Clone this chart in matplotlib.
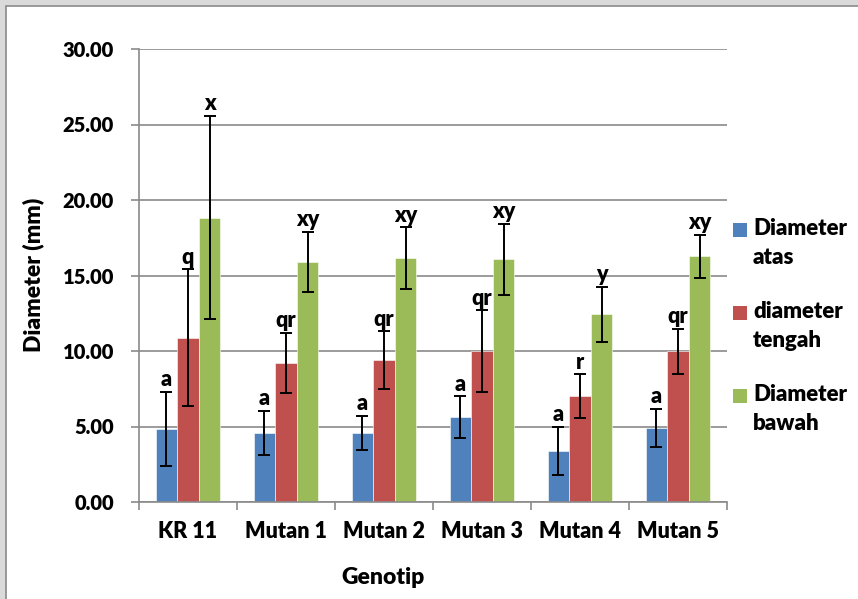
import matplotlib.pyplot as plt
import numpy as np
from matplotlib.patches import Rectangle

plt.rcParams['font.family'] = ['Lato', 'DejaVu Sans']
plt.rcParams['font.weight'] = 800
TEBAL = 800

genotip = ["KR 11", "Mutan 1", "Mutan 2", "Mutan 3", "Mutan 4", "Mutan 5"]

# rata-rata diameter (mm) dan simpangan baku
atas = [4.86, 4.59, 4.59, 5.61, 3.40, 4.90]
atas_err = [2.45, 1.45, 1.13, 1.38, 1.58, 1.28]
tengah = [10.89, 9.23, 9.40, 9.98, 7.02, 9.98]
tengah_err = [4.53, 1.99, 1.90, 2.71, 1.43, 1.50]
bawah = [18.83, 15.92, 16.16, 16.07, 12.43, 16.27]
bawah_err = [6.74, 1.98, 2.04, 2.37, 1.83, 1.42]

# notasi uji lanjut
notasi_atas = ["a", "a", "a", "a", "a", "a"]
notasi_tengah = ["q", "qr", "qr", "qr", "r", "qr"]
notasi_bawah = ["x", "xy", "xy", "xy", "y", "xy"]

seri = [
    ("Diameter\natas", atas, atas_err, notasi_atas, "#4F81BD"),
    ("diameter\ntengah", tengah, tengah_err, notasi_tengah, "#C0504D"),
    ("Diameter\nbawah", bawah, bawah_err, notasi_bawah, "#9BBB59"),
]

W, H = 858, 599
fig = plt.figure(figsize=(W / 100, H / 100), dpi=100, facecolor="#dadada")
# bingkai putih chart
fig.add_artist(Rectangle((6 / W, -0.1), 1.2, 1 - 6 / H + 0.1, transform=fig.transFigure,
                         facecolor="white", edgecolor="#8a8a8a", linewidth=1.2, zorder=0))

ax = fig.add_axes([139 / W, 1 - 502 / H, (727 - 139) / W, (502 - 49) / H])
ax.set_facecolor("none")

x = np.arange(len(genotip))
lebar = 0.221
for i, (nama, nilai, err, notasi, warna) in enumerate(seri):
    pos = x + (i - 1) * lebar
    ax.bar(pos, nilai, lebar, color=warna, edgecolor="white", linewidth=0.4, zorder=2)
    ax.errorbar(pos, nilai, yerr=err, fmt="none", ecolor="black", elinewidth=1.4,
                capsize=4, capthick=1.4, zorder=3)
    for p, v, e, t in zip(pos, nilai, err, notasi):
        ax.annotate(t, (p, v + e), xytext=(0, 4), textcoords="offset points",
                    ha="center", va="baseline", fontsize=15.5, fontweight=TEBAL)

ax.set_xlim(-0.5, len(genotip) - 0.5)
ax.set_ylim(0, 30)
ax.set_yticks(np.arange(0, 31, 5))
ax.set_yticklabels([f"{v:.2f}" for v in np.arange(0, 31, 5)])
ax.set_xticks(x)
ax.set_xticklabels(genotip)
ax.set_xticks(np.arange(-0.5, len(genotip), 1), minor=True)
ax.tick_params(axis="x", which="major", length=0, pad=14, labelsize=15.5)
ax.tick_params(axis="x", which="minor", length=6, width=1.2, color="#8a8a8a")
ax.tick_params(axis="y", length=6, width=1.2, color="#8a8a8a", pad=12, labelsize=14.5)
ax.yaxis.grid(True, color="#8a8a8a", linewidth=1.2, zorder=0)
ax.set_axisbelow(True)
for s in ["top", "right"]:
    ax.spines[s].set_visible(False)
for s in ["left", "bottom"]:
    ax.spines[s].set_color("#8a8a8a")
    ax.spines[s].set_linewidth(1.2)

fig.text(33 / W, 1 - 275 / H, "Diameter (mm)", rotation=90, ha="center", va="center",
         fontsize=16.5, fontweight=TEBAL)
fig.text(383 / W, 1 - 577 / H, "Genotip", ha="center", va="center",
         fontsize=16.5, fontweight=TEBAL)

# legenda
for i, (nama, nilai, err, notasi, warna) in enumerate(seri):
    yc = 230 + i * 83
    fig.add_artist(Rectangle((733 / W, 1 - (yc + 7) / H), 14 / W, 14 / H,
                             transform=fig.transFigure, facecolor=warna, edgecolor="none"))
    fig.text(753 / W, 1 - (yc - 12) / H, nama, ha="left", va="top", fontsize=16,
             fontweight=TEBAL, linespacing=1.45)

fig.savefig("out.png", dpi=100, facecolor=fig.get_facecolor())
